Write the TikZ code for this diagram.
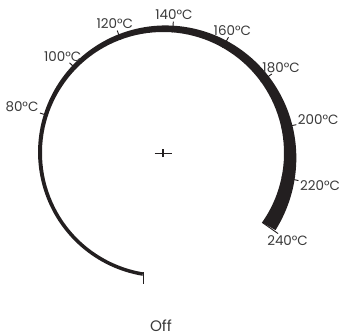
\documentclass[tikz,border=0pt]{standalone}
\usepackage{fontspec}
\setmainfont{Poppins}
\definecolor{ink}{HTML}{231F20}
\definecolor{lbltext}{HTML}{3A3A3A}
\tikzset{
  band/.style={fill=ink},
  dialtick/.style={draw=ink,line width=0.8pt},
  hair/.style={draw=ink,line width=0.8pt},
  templbl/.style={font=\fontsize{11.5}{13}\selectfont,text=lbltext,inner sep=1pt}
}
\begin{document}
\begin{tikzpicture}[x=0.3mm,y=0.3mm]
  \useasboundingbox (-163,-182) rectangle (177,153);
  % dial band, widening clockwise from Off
  \fill[band] plot[domain=0:1,samples=150,variable=\s]
    ({260.5-295.5*\s}:{124.5+12*\s*\s*sqrt(\s)})
    -- (-35:121) arc[start angle=-35,end angle=260.5,radius=121] -- cycle;
  % centre cross
  \coordinate (ctr) at (0,0);
  \draw[hair] (-8.5,0) -- (8.5,0);
  \draw[hair,line width=1.6pt] (0,-4) -- (0,4);
  % off marker
  \coordinate (offpt) at (260.5:121);
  \draw[dialtick] (offpt) -- ++(0,-12);
  \node[templbl,font=\fontsize{13}{15}\selectfont] (offlbl) at (-2,-172.5) {Off};
  % temperature scale
  \foreach \t/\a in {80/162,100/136,120/110.5,140/85.5,160/60.5,180/36,200/12,220/-11.5,240/-35}{
    \pgfmathsetmacro\r{124.5+12*((260.5-\a)/295.5)^2.5+4}
    \pgfmathtruncatemacro\b{\a+180}
    \draw[dialtick] (\a:121) -- (\a:\r) node[templbl,anchor=\b] (t\t) {\t°C};
  }
\end{tikzpicture}
\end{document}
